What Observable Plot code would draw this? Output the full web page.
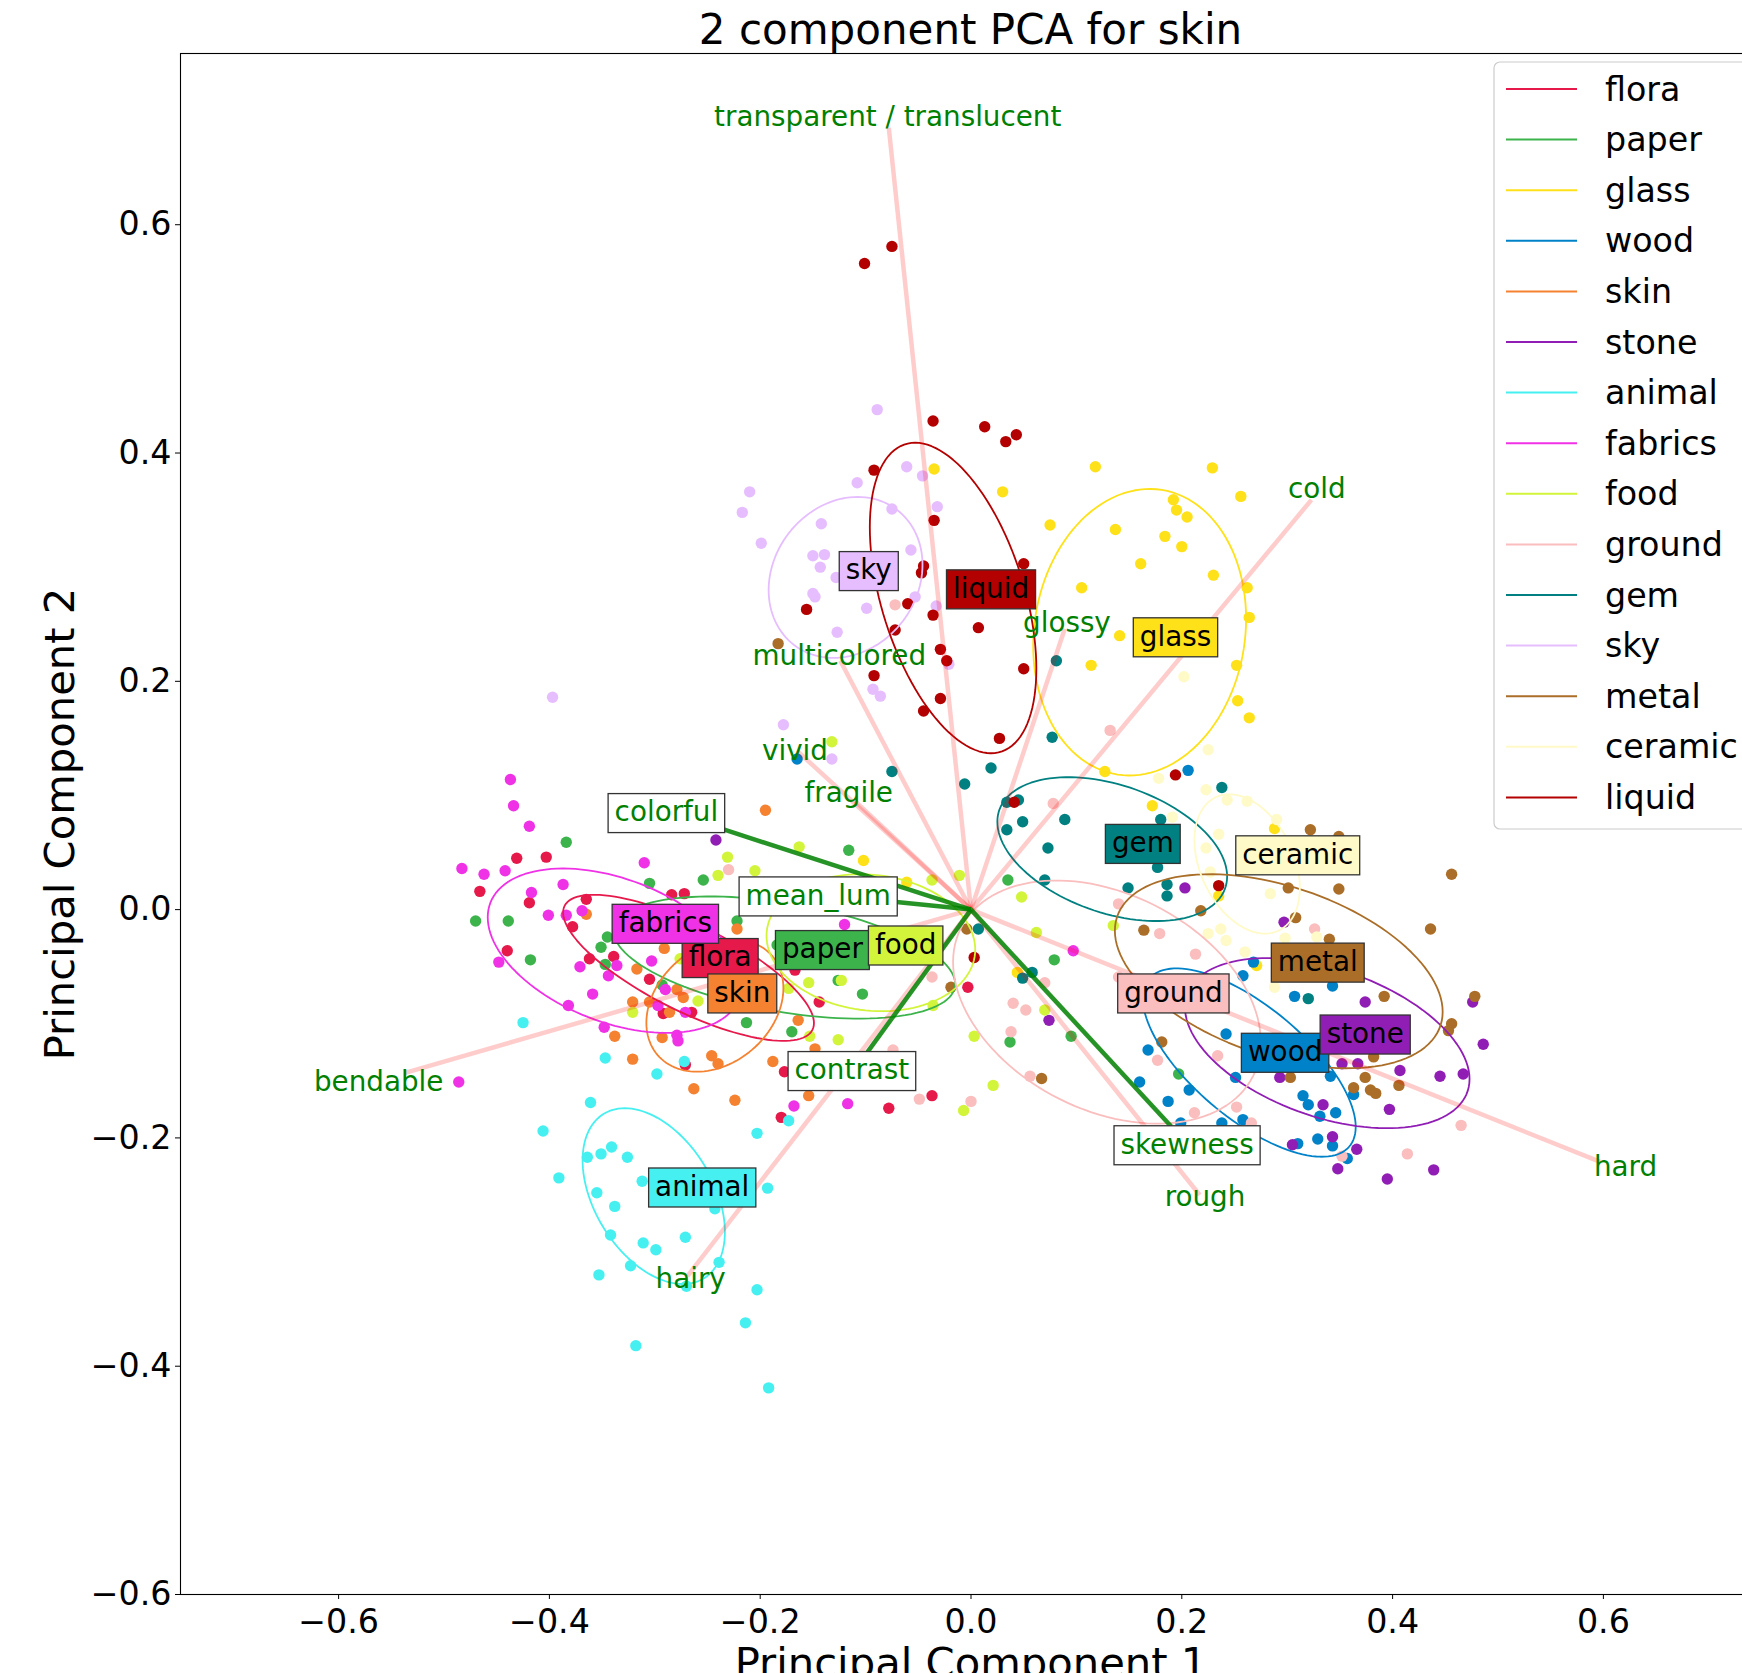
<!DOCTYPE html>
<html><head><meta charset="utf-8">
<script src="https://cdn.jsdelivr.net/npm/d3@7"></script>
<script src="https://cdn.jsdelivr.net/npm/@observablehq/plot@0.6"></script>
<style>
html,body{margin:0;padding:0;background:#fff;overflow:hidden;width:1742px;height:1673px;}
#title{position:relative;height:48px;width:1742px;font-family:"DejaVu Sans";font-size:42px;line-height:42px;color:#000;}
#title span{position:absolute;left:180px;width:1581px;text-align:center;top:9px;white-space:nowrap;}
#chart{width:1742px;height:1625px;overflow:hidden;}
</style></head><body>
<div id="title"><span>2 component PCA for skin</span></div>
<div id="chart"></div>
<script>
// ---------- categories ----------
const categories = ["flora","paper","glass","wood","skin","stone","animal","fabrics","food","ground","gem","sky","metal","ceramic","liquid"];
const categoryColors = ["#e6194b","#3cb44b","#ffe119","#0082c8","#f58231","#911eb4","#46f0f0","#f032e6","#d2f53c","#fabebe","#008080","#e6beff","#aa6e28","#fffac8","#b30000"];

// ---------- points (PC1, PC2) per category ----------
const flora = [[-0.431,0.045],[-0.403,0.046],[-0.466,0.016],[-0.419,0.006],[-0.365,0.009],[-0.378,-0.015],[-0.284,0.013],[-0.272,0.014],[-0.440,-0.036],[-0.362,-0.043],[-0.339,-0.041],[-0.305,-0.061],[-0.265,-0.090],[-0.292,-0.091],[-0.271,-0.136],[-0.177,-0.142],[-0.144,-0.081],[-0.037,-0.163],[-0.078,-0.174],[-0.180,-0.182],[-0.003,-0.068],[-0.167,-0.053]];
const paper = [[-0.384,0.059],[-0.305,0.023],[-0.254,0.026],[-0.470,-0.010],[-0.439,-0.010],[-0.418,-0.044],[-0.351,-0.033],[-0.345,-0.024],[-0.347,-0.048],[-0.293,-0.066],[-0.222,-0.010],[-0.184,-0.031],[-0.213,-0.099],[-0.170,-0.107],[-0.116,0.052],[-0.103,-0.074],[0.035,0.026],[0.079,-0.044],[0.095,-0.111],[0.037,-0.116],[-0.126,-0.062],[0.197,-0.144]];
const glass = [[0.229,0.387],[0.256,0.362],[0.192,0.359],[0.195,0.350],[0.205,0.344],[0.137,0.333],[0.184,0.327],[0.200,0.318],[0.161,0.303],[0.230,0.293],[0.262,0.282],[0.264,0.256],[0.141,0.240],[0.252,0.214],[0.253,0.183],[0.264,0.168],[-0.035,0.386],[0.030,0.366],[0.118,0.388],[0.075,0.337],[0.105,0.282],[0.114,0.214],[-0.102,0.043],[-0.061,0.024],[0.127,0.121],[0.044,-0.055],[0.172,0.091],[0.288,0.071],[0.235,0.012],[0.271,-0.049]];
const wood = [[0.206,0.122],[0.268,-0.046],[0.307,-0.076],[0.343,-0.067],[0.258,-0.058],[0.242,-0.109],[0.168,-0.123],[0.207,-0.158],[0.160,-0.151],[0.251,-0.147],[0.341,-0.146],[0.315,-0.163],[0.363,-0.162],[0.187,-0.168],[0.199,-0.187],[0.238,-0.187],[0.258,-0.184],[0.320,-0.171],[0.331,-0.181],[0.346,-0.178],[0.310,-0.205],[0.329,-0.201],[0.343,-0.207],[0.357,-0.218],[-0.165,0.132]];
const skin = [[-0.195,0.087],[-0.365,-0.004],[-0.222,-0.017],[-0.291,-0.034],[-0.317,-0.052],[-0.321,-0.081],[-0.305,-0.081],[-0.279,-0.070],[-0.273,-0.077],[-0.286,-0.090],[-0.338,-0.111],[-0.293,-0.112],[-0.246,-0.128],[-0.240,-0.135],[-0.321,-0.131],[-0.188,-0.133],[-0.263,-0.157],[-0.224,-0.167],[-0.164,-0.097],[-0.148,-0.122],[-0.154,-0.163]];
const stone = [[0.203,0.019],[0.297,-0.011],[0.374,-0.081],[0.476,-0.081],[0.407,-0.141],[0.445,-0.146],[0.467,-0.144],[0.352,-0.135],[0.367,-0.135],[0.293,-0.147],[0.334,-0.171],[0.397,-0.175],[0.343,-0.199],[0.305,-0.206],[0.366,-0.210],[0.348,-0.227],[0.395,-0.236],[0.439,-0.228],[0.074,-0.097],[-0.242,0.061],[0.486,-0.118]];
const animal = [[-0.361,-0.169],[-0.406,-0.194],[-0.364,-0.217],[-0.351,-0.214],[-0.341,-0.208],[-0.326,-0.217],[-0.391,-0.235],[-0.312,-0.238],[-0.355,-0.248],[-0.338,-0.260],[-0.243,-0.262],[-0.193,-0.244],[-0.203,-0.196],[-0.173,-0.185],[-0.342,-0.285],[-0.311,-0.292],[-0.299,-0.298],[-0.271,-0.287],[-0.323,-0.312],[-0.239,-0.309],[-0.353,-0.320],[-0.270,-0.330],[-0.203,-0.333],[-0.214,-0.362],[-0.318,-0.382],[-0.192,-0.419],[-0.425,-0.099],[-0.347,-0.130],[-0.298,-0.144],[-0.272,-0.133]];
const fabrics = [[-0.437,0.114],[-0.434,0.091],[-0.419,0.073],[-0.483,0.036],[-0.462,0.031],[-0.442,0.034],[-0.310,0.041],[-0.387,0.022],[-0.417,0.015],[-0.401,-0.005],[-0.384,-0.005],[-0.369,-0.001],[-0.448,-0.046],[-0.371,-0.050],[-0.336,-0.049],[-0.344,-0.058],[-0.303,-0.045],[-0.290,-0.070],[-0.359,-0.074],[-0.382,-0.084],[-0.297,-0.084],[-0.271,-0.090],[-0.348,-0.103],[-0.279,-0.110],[-0.278,-0.115],[-0.486,-0.151],[-0.120,-0.013],[0.097,-0.036],[-0.168,-0.172],[-0.117,-0.170]];
const food = [[-0.231,0.046],[-0.240,0.030],[-0.205,0.034],[-0.163,0.055],[-0.276,-0.043],[-0.259,-0.080],[-0.321,-0.090],[-0.173,-0.069],[-0.132,0.147],[-0.037,0.026],[-0.011,0.030],[0.048,0.011],[0.062,-0.020],[-0.154,-0.064],[-0.123,-0.062],[-0.036,-0.084],[0.070,-0.088],[0.003,-0.111],[-0.153,-0.111],[-0.126,-0.114],[0.021,-0.154],[0.135,-0.014],[-0.007,-0.176]];
const ground = [[0.078,0.093],[0.140,0.005],[-0.037,-0.059],[0.040,-0.082],[0.052,-0.088],[0.038,-0.107],[0.070,-0.064],[0.056,-0.146],[0.140,-0.059],[-0.074,-0.123],[-0.230,0.035],[0.179,-0.021],[0.213,-0.039],[0.326,-0.017],[0.177,-0.132],[0.234,-0.128],[0.212,-0.178],[0.252,-0.173],[0.266,-0.187],[0.352,-0.216],[0.414,-0.214],[0.465,-0.189],[-0.049,-0.166],[0.000,-0.168],[-0.072,0.267],[0.132,0.157]];
const gem = [[-0.075,0.121],[0.019,0.124],[-0.006,0.110],[0.034,0.094],[0.045,0.096],[0.049,0.077],[0.034,0.070],[0.089,0.079],[0.073,0.054],[0.070,0.026],[0.007,-0.017],[0.058,-0.055],[0.049,-0.060],[0.149,0.019],[0.238,0.107],[0.180,0.079],[0.177,0.037],[0.186,0.022],[0.186,0.012],[0.320,-0.078],[0.081,0.218],[0.077,0.151]];
const sky = [[-0.089,0.438],[-0.061,0.388],[-0.046,0.380],[-0.108,0.374],[-0.032,0.353],[-0.075,0.351],[-0.142,0.338],[-0.057,0.315],[-0.150,0.310],[-0.139,0.311],[-0.143,0.300],[-0.128,0.291],[-0.150,0.277],[-0.148,0.274],[-0.053,0.274],[-0.033,0.266],[-0.099,0.264],[-0.127,0.243],[-0.021,0.215],[-0.093,0.193],[-0.086,0.187],[-0.178,0.162],[-0.132,0.132],[-0.210,0.366],[-0.217,0.348],[-0.199,0.321],[-0.397,0.186]];
const metal = [[0.322,0.070],[0.349,0.064],[0.456,0.031],[0.301,0.019],[0.349,0.018],[0.218,-0.001],[0.164,-0.018],[0.308,-0.007],[0.436,-0.017],[0.340,-0.026],[0.392,-0.076],[0.478,-0.076],[0.456,-0.100],[0.453,-0.106],[0.181,-0.116],[0.382,-0.129],[0.374,-0.147],[0.303,-0.147],[0.406,-0.154],[0.363,-0.156],[0.379,-0.158],[0.384,-0.161],[-0.004,-0.017],[-0.019,-0.068],[0.067,-0.148],[-0.183,0.233]];
const ceramic = [[0.178,0.115],[0.223,0.105],[0.243,0.096],[0.262,0.095],[0.290,0.079],[0.235,0.066],[0.223,0.054],[0.227,0.033],[0.284,0.014],[0.225,-0.021],[0.237,-0.017],[0.242,-0.027],[0.260,-0.037],[0.298,-0.025],[0.328,-0.024],[0.288,-0.068],[0.191,0.081],[0.202,0.204],[0.225,0.140]];
const liquid = [[-0.101,0.566],[-0.075,0.581],[-0.036,0.428],[0.013,0.423],[0.033,0.410],[0.043,0.416],[-0.092,0.385],[-0.035,0.341],[0.050,0.303],[-0.045,0.301],[-0.047,0.295],[-0.156,0.263],[-0.060,0.268],[-0.036,0.258],[0.007,0.247],[-0.072,0.245],[-0.029,0.228],[-0.023,0.218],[-0.092,0.205],[0.050,0.211],[-0.029,0.185],[-0.045,0.174],[0.027,0.150],[0.041,0.094],[0.194,0.118],[0.235,0.021],[0.003,-0.042]];

// ---------- covariance ellipses (centre, x half-extent, y half-extent, x-shift of top point) ----------
const ellipseCx = [-0.268,-0.177,0.160,0.264,-0.243,0.338,-0.301,-0.338,-0.095,0.129,0.134,-0.119,0.292,0.262,-0.017];
const ellipseCy = [-0.051,-0.042,0.243,-0.134,-0.084,-0.117,-0.251,-0.036,-0.029,-0.081,0.053,0.291,-0.054,0.040,0.273];
const ellipseRx = [0.119,0.162,0.101,0.101,0.065,0.135,0.0675,0.1205,0.099,0.146,0.109,0.073,0.1555,0.050,0.079];
const ellipseRy = [0.064,0.0535,0.1255,0.0825,0.058,0.0745,0.077,0.072,0.060,0.1065,0.063,0.0705,0.085,0.061,0.136];
const ellipseTopShift = [-0.090,-0.070,0.0095,-0.069,0.017,-0.057,-0.0275,-0.049,-0.010,-0.048,-0.0415,0.0115,-0.065,-0.017,-0.036];

// ---------- category label positions ----------
const labelX = [-0.238,-0.141,0.194,0.298,-0.217,0.374,-0.255,-0.290,-0.062,0.192,0.163,-0.097,0.329,0.310,0.019];
const labelY = [-0.042,-0.035,0.239,-0.125,-0.073,-0.109,-0.243,-0.012,-0.031,-0.073,0.058,0.297,-0.046,0.048,0.281];

// ---------- feature loadings ----------
const featureNames = ["transparent / translucent","cold","glossy","multicolored","vivid","fragile","bendable","hairy","rough","hard","colorful","mean_lum","contrast","skewness"];
const featureX = [-0.078,0.323,0.089,-0.124,-0.165,-0.110,-0.537,-0.269,0.217,0.597,-0.234,-0.118,-0.100,0.190];
const featureY = [0.685,0.359,0.246,0.218,0.139,0.095,-0.143,-0.321,-0.250,-0.221,0.070,0.011,-0.127,-0.190];
const featureLabelX = [-0.079,0.328,0.091,-0.125,-0.167,-0.116,-0.562,-0.266,0.222,0.621,-0.289,-0.145,-0.113,0.205];
const featureLabelY = [0.694,0.368,0.251,0.222,0.139,0.102,-0.151,-0.324,-0.252,-0.226,0.085,0.012,-0.141,-0.206];
const featureHighlighted = [false,false,false,false,false,false,false,false,false,false,true,true,true,true];

// ---------- tables ----------
const pointSets = {flora, paper, glass, wood, skin, stone, animal, fabrics, food, ground, gem, sky, metal, ceramic, liquid};
const points = categories.flatMap(c => pointSets[c].map(([x, y]) => ({cat: c, x, y})));
const ellipsePoints = categories.flatMap((c, i) => {
  const l11 = ellipseRx[i];
  const l21 = ellipseTopShift[i] * ellipseRy[i] / ellipseRx[i];
  const l22 = Math.sqrt(Math.max(0, ellipseRy[i] ** 2 - l21 ** 2));
  return d3.range(0, 121).map(k => {
    const t = 2 * Math.PI * k / 120;
    return {cat: c, x: ellipseCx[i] + l11 * Math.cos(t), y: ellipseCy[i] + l21 * Math.cos(t) + l22 * Math.sin(t)};
  });
});
const labels = categories.map((c, i) => ({cat: c, x: labelX[i], y: labelY[i], color: categoryColors[i]}));
const features = featureNames.map((n, i) => ({name: n, x: featureX[i], y: featureY[i], lx: featureLabelX[i], ly: featureLabelY[i], hi: featureHighlighted[i]}));
const plainFeatures = features.filter(d => !d.hi);
const keyFeatures = features.filter(d => d.hi);

const FONT = "DejaVu Sans";
const measureCtx = document.createElement("canvas").getContext("2d");

function boxedText(data, {text, textColor, boxColor}) {
  return Plot.text(data, {
    x: "x", y: "y", text, fill: textColor, fontSize: 27.8, fontFamily: FONT, lineAnchor: "middle",
    render(index, scales, values, dimensions, context, next) {
      const g = next(index, scales, values, dimensions, context);
      measureCtx.font = `27.8px "${FONT}"`;
      const layer = d3.create("svg:g");
      for (const i of index) {
        const w = measureCtx.measureText(text(data[i])).width + 13;
        const h = 39;
        layer.append("rect")
          .attr("x", values.x[i] - w / 2).attr("y", values.y[i] - h / 2 + 0.5)
          .attr("width", w).attr("height", h)
          .attr("fill", boxColor(data[i])).attr("stroke", "#333").attr("stroke-width", 1.3);
      }
      g.insertBefore(layer.node(), g.firstChild);
      return g;
    }
  });
}

function legendMark(index, scales, values, dimensions) {
  const right = dimensions.width - dimensions.marginRight;
  const left = right - 267, top = dimensions.marginTop + 9;
  const g = d3.create("svg:g").attr("font-family", FONT).attr("font-size", 33.3).attr("text-anchor", "start");
  g.append("rect").attr("x", left).attr("y", top).attr("width", 258).attr("height", 767)
    .attr("rx", 6).attr("fill", "white").attr("fill-opacity", 0.8).attr("stroke", "#cccccc").attr("stroke-width", 1.2);
  categories.forEach((c, i) => {
    const y = top + 27 + 50.6 * i;
    g.append("line").attr("x1", left + 12).attr("x2", left + 83).attr("y1", y).attr("y2", y)
      .attr("stroke", scales.color(c)).attr("stroke-width", 2);
    g.append("text").attr("x", left + 111).attr("y", y).attr("dy", "0.35em")
      .attr("text-anchor", "start").attr("fill", "black").text(c);
  });
  return g.node();
}

const fmt = d => (d < 0 ? "\u2212" : "") + Math.abs(d).toFixed(1);
const xTicks = [-0.6, -0.4, -0.2, 0, 0.2, 0.4, 0.6];
const yTicks = [-0.6, -0.4, -0.2, 0, 0.2, 0.4, 0.6];

const chart = Plot.plot({
  width: 1742, height: 1625,
  marginLeft: 180, marginRight: -19, marginTop: 5, marginBottom: 79,
  style: {fontFamily: FONT, fontSize: "33.3px", background: "white", overflow: "hidden", color: "black"},
  x: {domain: [-0.75, 0.75], label: null},
  y: {domain: [-0.6, 0.75], label: null},
  color: {type: "ordinal", domain: categories, range: categoryColors},
  marks: [
    Plot.dot(points, {x: "x", y: "y", fill: "cat", r: 5.7}),
    Plot.line(ellipsePoints, {x: "x", y: "y", z: "cat", stroke: "cat", strokeWidth: 1.8}),
    Plot.link(plainFeatures, {x1: () => 0, y1: () => 0, x2: "x", y2: "y", stroke: "red", strokeOpacity: 0.2, strokeWidth: 4.5}),
    Plot.link(keyFeatures, {x1: () => 0, y1: () => 0, x2: "x", y2: "y", stroke: "green", strokeOpacity: 0.85, strokeWidth: 4.5}),
    Plot.text(plainFeatures, {x: "lx", y: "ly", text: "name", fill: "green", fontSize: 27.8, fontFamily: FONT, lineAnchor: "middle"}),
    boxedText(keyFeatures.map(d => ({x: d.lx, y: d.ly, name: d.name})), {text: d => d.name, textColor: "green", boxColor: () => "white"}),
    boxedText(labels, {text: d => d.cat, textColor: "black", boxColor: d => d.color}),
    Plot.frame({stroke: "black", strokeWidth: 1.1}),
    Plot.axisX({ticks: xTicks, tickFormat: fmt, tickSize: 5, tickPadding: 10, fontSize: 33.3}),
    Plot.axisY({ticks: yTicks, tickFormat: fmt, tickSize: 5, tickPadding: 4, fontSize: 33.3}),
    Plot.text(["Principal Component 1"], {frameAnchor: "bottom", textAnchor: "middle", dy: 82, lineAnchor: "bottom", fontSize: 41.7, fill: "black"}),
    Plot.text(["Principal Component 2"], {frameAnchor: "left", textAnchor: "middle", dx: -107, rotate: -90, lineAnchor: "bottom", fontSize: 41.7, fill: "black"}),
    legendMark
  ]
});
document.getElementById("chart").appendChild(chart);
</script></body></html>
